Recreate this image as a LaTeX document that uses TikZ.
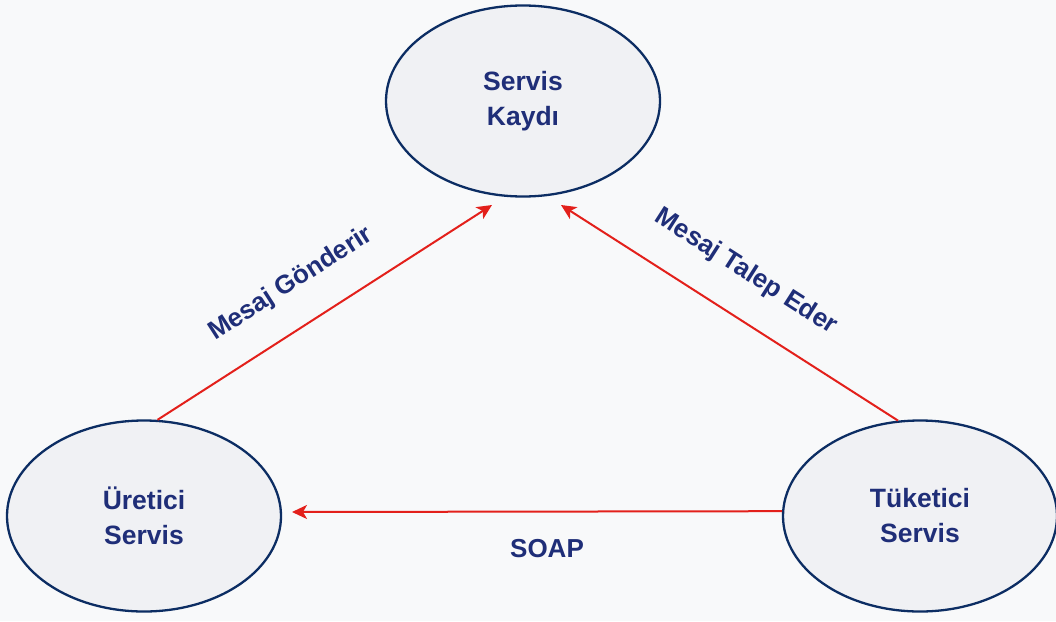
\documentclass[tikz,border=0pt]{standalone}
\usepackage{fontspec}
\setmainfont{Liberation Sans}
\usetikzlibrary{shapes.geometric,arrows.meta}
\definecolor{bgc}{HTML}{F8F9FA}
\definecolor{fillc}{HTML}{F0F1F4}
\definecolor{edgec}{HTML}{0C2D63}
\definecolor{txtc}{HTML}{1F2E78}
\definecolor{redc}{HTML}{E3201B}
\tikzset{
  svc/.style={ellipse, draw=edgec, line width=2.3pt, fill=fillc, minimum width=274pt,
    minimum height=191pt, inner sep=0pt, align=center, text=txtc,
    font=\fontsize{26.5}{35}\selectfont\bfseries},
  conn/.style={draw=redc, line width=2pt, -{Stealth[length=15pt,width=14pt,inset=4pt]}},
  lbl/.style={text=txtc, font=\fontsize{26}{30}\selectfont\bfseries, inner sep=0pt}
}
\begin{document}
\begin{tikzpicture}[x=1pt,y=-1pt]
\fill[bgc] (0,0) rectangle (1056,621);
\useasboundingbox (0,0) rectangle (1056,621);
\node[svc] (kayit) at (523,101) {Servis\\Kaydı};
\node[svc] (uret) at (144,516) {Üretici\\Servis};
\node[svc] (tuk) at (920,516) {Tüketici\\Servis};
\coordinate (t1) at (492,205);
\coordinate (t2) at (561,205);
\coordinate (t3) at (292,512);
\draw[conn] (uret.82) -- (t1);
\draw[conn] (tuk.103.5) -- (t2);
\draw[conn] (tuk.178.7) -- (t3);
\node[lbl, rotate=32.7] (l1) at (291,284) {Mesaj Gönderir};
\node[lbl, rotate=-32.6] (l2) at (746,272) {Mesaj Talep Eder};
\node[lbl] (l3) at (547,549) {SOAP};
\end{tikzpicture}
\end{document}
